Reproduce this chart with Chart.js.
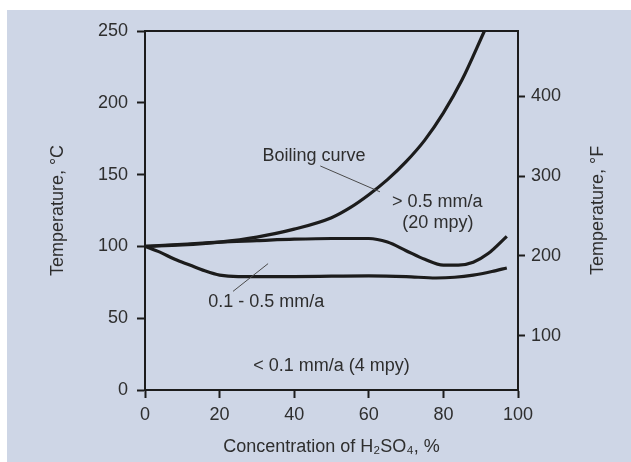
<!DOCTYPE html>
<html>
<head>
<meta charset="utf-8">
<script src="https://cdn.jsdelivr.net/npm/chart.js@4"></script>
<style>
    body { margin: 0; background: #fff; }
    #wrap {
        position: absolute;
        left: 7px;
        top: 10px;
        width: 624px;
        height: 452px;
        background: #ced6e6;
    }
</style>
</head>
<body>
<div id="wrap"><canvas id="acidChart"></canvas></div>
<script>
// Boiling curve (concentration %, temperature °C)
const boilConc = [0, 10, 20, 30, 40, 50, 55, 60, 65, 70, 75, 80, 85, 91];
const boilTemp = [100, 101, 103, 106.5, 112, 120, 127, 136, 146.5, 159, 174, 193, 216, 250];

// 0.5 mm/a iso-corrosion line
const upperConc = [0, 10, 20, 30, 40, 50, 60, 65, 70, 75, 80, 84, 88, 92, 97];
const upperTemp = [100, 101.5, 103, 104, 105, 105.5, 105.5, 103, 97, 91, 87, 87, 89, 95, 107];

// 0.1 mm/a iso-corrosion line
const lowerConc = [0, 4, 8, 12, 16, 20, 25, 40, 60, 70, 78, 83, 88, 93, 97];
const lowerTemp = [100, 96, 91, 87, 83, 80, 79, 79, 79.5, 79, 78, 78.5, 80, 82.5, 85];

const fahrenheitTicks = [100, 200, 300, 400];

// labels placed in data units (conc, °C)
const noteTexts = ["Boiling curve", "> 0.5 mm/a", "(20 mpy)", "0.1 - 0.5 mm/a", "< 0.1 mm/a (4 mpy)"];
const noteConc = [45.3, 66.2, 69, 32.5, 50];
const noteTemp = [163, 131, 116.5, 61, 17];
const noteAlign = ["center", "left", "left", "center", "center"];

// leader lines [conc1, temp1, conc2, temp2]
const leaders = [
    [47, 156, 63, 138],
    [23.6, 68.7, 33, 88]
];

const ink = "#1c1c1c";
const textColor = "#2e2e2e";
const font = { family: "'Liberation Sans', Arial, sans-serif", size: 18 };

function toPoints(xs, ys) {
    return xs.map((x, i) => ({ x: x, y: ys[i] }));
}

function curve(xs, ys) {
    return {
        data: toPoints(xs, ys),
        borderColor: ink,
        borderWidth: 3.2,
        pointRadius: 0,
        fill: false,
        cubicInterpolationMode: "monotone"
    };
}

const notesPlugin = {
    id: "notes",
    afterDatasetsDraw(chart) {
        const ctx = chart.ctx;
        const xs = chart.scales.x;
        const ys = chart.scales.y;
        const area = chart.chartArea;
        ctx.save();
        ctx.strokeStyle = "#4a4a4a";
        ctx.lineWidth = 1;
        leaders.forEach(l => {
            ctx.beginPath();
            ctx.moveTo(xs.getPixelForValue(l[0]), ys.getPixelForValue(l[1]));
            ctx.lineTo(xs.getPixelForValue(l[2]), ys.getPixelForValue(l[3]));
            ctx.stroke();
        });
        ctx.fillStyle = textColor;
        ctx.font = font.size + "px " + font.family;
        ctx.textBaseline = "middle";
        noteTexts.forEach((t, i) => {
            ctx.textAlign = noteAlign[i];
            ctx.fillText(t, xs.getPixelForValue(noteConc[i]), ys.getPixelForValue(noteTemp[i]));
        });

        // right axis title reads bottom-to-top like the left one
        const rx = chart.scales.yF.right - 33;
        ctx.translate(rx, (area.top + area.bottom) / 2);
        ctx.rotate(-Math.PI / 2);
        ctx.textAlign = "center";
        ctx.fillText("Temperature, \u00B0F", 0, 0);
        ctx.restore();
    }
};

const ctx = document.getElementById("acidChart").getContext("2d");

new Chart(ctx, {
    type: "line",
    data: {
        datasets: [
            curve(boilConc, boilTemp),
            curve(upperConc, upperTemp),
            curve(lowerConc, lowerTemp)
        ]
    },
    options: {
        responsive: true,
        maintainAspectRatio: false,
        animation: false,
        layout: { padding: 0 },
        plugins: {
            legend: { display: false },
            tooltip: { enabled: false }
        },
        scales: {
            x: {
                type: "linear",
                position: "bottom",
                min: 0,
                max: 100,
                ticks: { stepSize: 20, color: textColor, font: font, padding: 6, maxRotation: 0 },
                grid: { drawOnChartArea: false, drawTicks: true, tickLength: 8, tickColor: ink, tickWidth: 2 },
                border: { display: true, color: ink, width: 2 },
                title: {
                    display: true,
                    text: "Concentration of H\u2082SO\u2084, %",
                    color: textColor,
                    font: font,
                    padding: { top: 0, bottom: 4 }
                },
                afterFit: s => { s.height = 72; }
            },
            xTop: {
                type: "linear",
                position: "top",
                min: 0,
                max: 100,
                ticks: { display: false },
                grid: { drawOnChartArea: false, drawTicks: false },
                border: { display: true, color: ink, width: 2 },
                afterFit: s => { s.height = 21; }
            },
            y: {
                type: "linear",
                position: "left",
                min: 0,
                max: 250,
                ticks: { stepSize: 50, color: textColor, font: font, padding: 9 },
                grid: { drawOnChartArea: false, drawTicks: true, tickLength: 8, tickColor: ink, tickWidth: 2 },
                border: { display: true, color: ink, width: 2 },
                title: {
                    display: true,
                    text: "Temperature, \u00B0C",
                    color: textColor,
                    font: font,
                    padding: { top: 40, bottom: 0 }
                },
                afterFit: s => { s.width = 138; }
            },
            yF: {
                type: "linear",
                position: "right",
                min: 32,
                max: 482,
                afterBuildTicks: s => { s.ticks = fahrenheitTicks.map(v => ({ value: v })); },
                ticks: { color: textColor, font: font, padding: 6 },
                grid: { drawOnChartArea: false, drawTicks: true, tickLength: 7, tickColor: ink, tickWidth: 2 },
                border: { display: true, color: ink, width: 2 },
                afterFit: s => { s.width = 113; }
            }
        }
    },
    plugins: [notesPlugin]
});
</script>
</body>
</html>
